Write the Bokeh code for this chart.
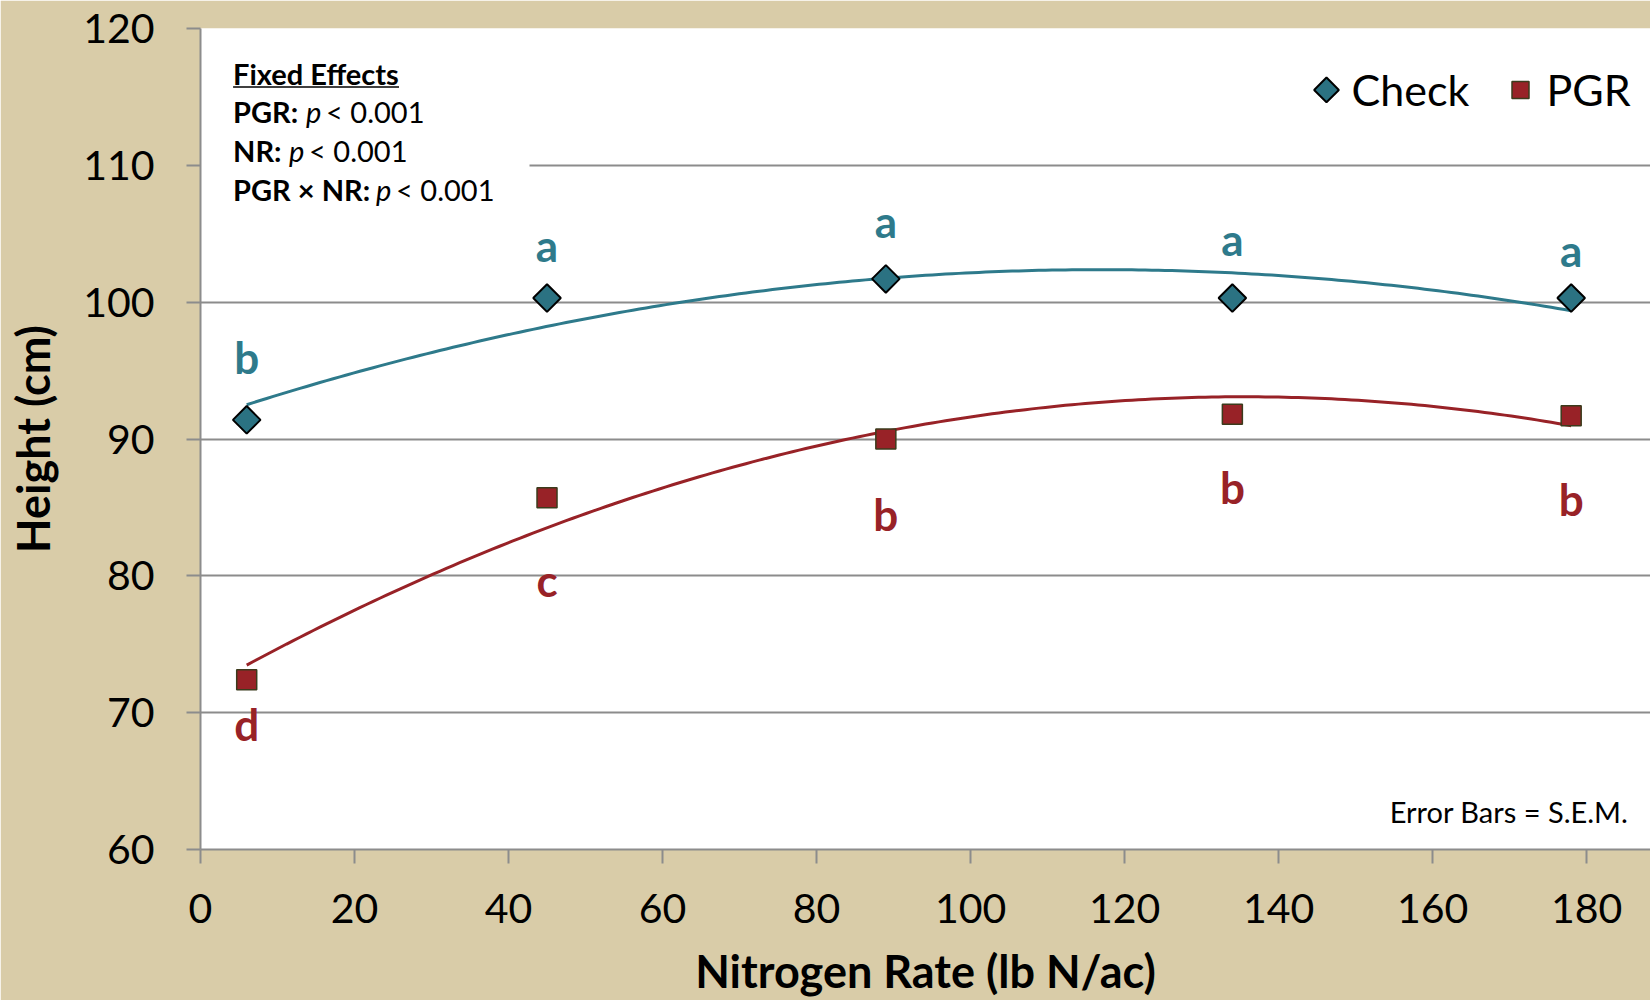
import numpy as np
from bokeh.plotting import figure
from bokeh.models import ColumnDataSource, Range1d, FixedTicker, Label, BoxAnnotation
from bokeh.core.properties import value
from bokeh.embed import file_html
from bokeh.resources import INLINE

# ---------------- data ----------------
nitrogen_rate = [6, 45, 89, 134, 178]
check_height = [91.4, 100.3, 101.7, 100.3, 100.3]
pgr_height = [72.4, 85.7, 90.0, 91.8, 91.7]
check_letters = ["b", "a", "a", "a", "a"]
pgr_letters = ["d", "c", "b", "b", "b"]
check_letter_y = [96.0, 104.2, 105.9, 104.6, 103.8]
pgr_letter_y = [69.2, 79.7, 84.5, 86.5, 85.6]
x_ticks = [0, 20, 40, 60, 80, 100, 120, 140, 160, 180]
y_ticks = [60, 70, 80, 90, 100, 110, 120]
series_names = ["Check", "PGR"]

FONT = "Lato"
TEAL = "#2b7282"
TEAL_LINE = "#2e7a8b"
RED = "#982227"
BG = "#d9cca8"
GRID = "#8c8c8c"

W, H = 1650, 1000
LEFT, TOP, BOTTOM = 200, 28, 150
X0, X1, Y0, Y1 = 0, 188.3, 60, 120

p = figure(width=W, height=H, output_backend="svg", toolbar_location=None,
           x_range=Range1d(X0, X1), y_range=Range1d(Y0, Y1),
           min_border_left=LEFT, min_border_right=0, min_border_top=TOP, min_border_bottom=BOTTOM)
p.background_fill_color = "white"
p.border_fill_color = BG
p.outline_line_color = None

# helpers: frame pixel -> data (for annotation placement only)
def px2x(px):
    return X0 + (px - LEFT) * (X1 - X0) / (W - LEFT)
def py2y(py):
    return Y1 - (py - TOP) * (Y1 - Y0) / (H - TOP - BOTTOM)

# axes
for ax in (p.xaxis[0], p.yaxis[0]):
    ax.axis_line_color = GRID
    ax.axis_line_width = 2
    ax.major_tick_line_color = GRID
    ax.major_tick_line_width = 2
    ax.major_tick_out = 14
    ax.major_tick_in = 0
    ax.minor_tick_line_color = None
    ax.major_label_text_font = FONT
    ax.major_label_text_font_size = "41px"
    ax.major_label_text_color = "black"
    ax.axis_label_text_font = FONT
    ax.axis_label_text_font_size = "45px"
    ax.axis_label_text_font_style = "bold"
    ax.axis_label_text_color = "black"

p.xaxis.ticker = FixedTicker(ticks=x_ticks)
p.yaxis.ticker = FixedTicker(ticks=y_ticks)
p.xaxis.axis_label = "Nitrogen Rate (lb N/ac)"
p.yaxis.axis_label = "Height (cm)"
p.xaxis.major_label_standoff = 30
p.yaxis.major_label_standoff = 32
p.xaxis.axis_label_standoff = 18
p.yaxis.axis_label_standoff = 20

p.xgrid.grid_line_color = None
p.ygrid.grid_line_color = GRID
p.ygrid.grid_line_width = 2

# white box behind the fixed-effects text (hides the gridline)
p.add_layout(BoxAnnotation(left=0, right=px2x(529), bottom=py2y(205), top=py2y(40),
                           fill_color="white", fill_alpha=1.0, line_alpha=0, level="underlay"))

# trend lines (quadratic fit to the means)
xs = np.linspace(min(nitrogen_rate), max(nitrogen_rate), 200)
cfit = np.polyfit(nitrogen_rate, check_height, 2)
pfit = np.polyfit(nitrogen_rate, pgr_height, 2)
p.line(xs, np.polyval(cfit, xs), line_color=TEAL_LINE, line_width=3)
p.line(xs, np.polyval(pfit, xs), line_color=RED, line_width=3)

# points
check_style = dict(marker="square", angle=np.pi / 4, fill_color=TEAL, line_color="black", line_width=2)
pgr_style = dict(marker="square", fill_color=RED, line_color="#3b3b1c", line_width=1.5)
src_c = ColumnDataSource(dict(x=nitrogen_rate, y=check_height))
src_p = ColumnDataSource(dict(x=nitrogen_rate, y=pgr_height))
p.scatter("x", "y", source=src_c, size=19.5, **check_style)
p.scatter("x", "y", source=src_p, size=20, **pgr_style)

# significance letters
p.text(nitrogen_rate, check_letter_y, text=check_letters, text_font=value(FONT),
       text_font_size="44px", text_font_style="bold", text_color=TEAL_LINE,
       text_align="center", text_baseline="middle")
p.text(nitrogen_rate, pgr_letter_y, text=pgr_letters, text_font=value(FONT),
       text_font_size="44px", text_font_style="bold", text_color=RED,
       text_align="center", text_baseline="middle")

# legend (keys drawn as the same markers as the data, so the diamond keeps its shape)
ly = py2y(89.5)
p.scatter([px2x(1326)], [ly], size=17.5, **check_style)
p.scatter([px2x(1520)], [ly], size=17, **pgr_style)
for name, px in zip(series_names, [1351, 1546]):
    p.add_layout(Label(x=px2x(px), y=ly, text=name, text_font=FONT, text_font_size="43px",
                       text_color="black", text_baseline="middle"))

# fixed effects text
fx = px2x(232.6)
rows = [py2y(72.7), py2y(111.6), py2y(150.6), py2y(189.5)]
def lab(text, y, xoff=0, style="normal", size="29px"):
    p.add_layout(Label(x=fx, y=y, x_offset=xoff, text=text, text_font=FONT,
                       text_font_size=size, text_font_style=style, text_color="black",
                       text_baseline="middle"))

lab("Fixed Effects", rows[0], style="bold")
p.segment(x0=[fx], y0=[py2y(86.5)], x1=[px2x(398.5)], y1=[py2y(86.5)], line_color="black", line_width=1.5)
lab("PGR:", rows[1], style="bold")
lab("p", rows[1], xoff=73, style="italic")
lab("< 0.001", rows[1], xoff=93)
lab("NR:", rows[2], style="bold")
lab("p", rows[2], xoff=56, style="italic")
lab("< 0.001", rows[2], xoff=76)
lab("PGR \u00d7 NR:", rows[3], style="bold")
lab("p", rows[3], xoff=143, style="italic")
lab("< 0.001", rows[3], xoff=163)

p.add_layout(Label(x=px2x(1628), y=py2y(812.4), text="Error Bars = S.E.M.", text_font=FONT,
                   text_font_size="29px", text_color="black", text_align="right",
                   text_baseline="middle"))

open("out.html", "w").write(file_html(p, INLINE))
